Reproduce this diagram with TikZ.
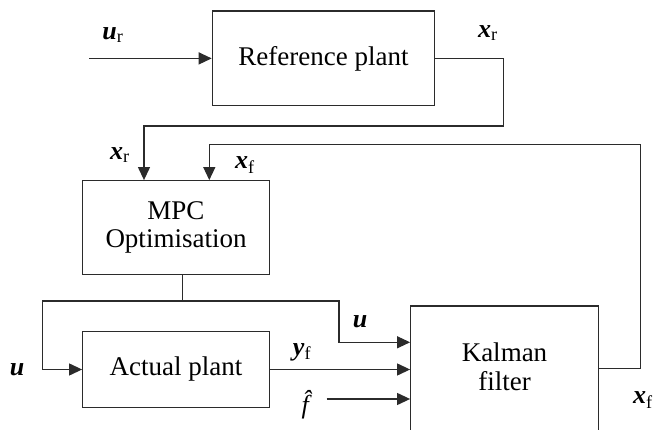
\documentclass[tikz,border=0pt]{standalone}
\usepackage{fontspec}
\setmainfont{Liberation Serif}
\usepackage{xcolor}
\usepackage{tikz}
\usetikzlibrary{positioning, arrows.meta}
\definecolor{blockline}{HTML}{2B2B2B}

\begin{document}
\begin{tikzpicture}[x=1pt, y=-1pt,
    block/.style={draw=blockline, line width=1.2pt, inner sep=0pt, align=center,
                  font=\fontsize{27}{28.5}\selectfont},
    sig/.style={draw=blockline, line width=1.2pt, -{Triangle[length=13pt, width=12pt]}},
    lbl/.style={inner sep=0pt, font=\fontsize{26}{28}\selectfont}]
    \useasboundingbox (0,0) rectangle (657,430);
    \clip (0,0) rectangle (657,430);

    \node[block, minimum width=222.4pt, minimum height=94.7pt] (refplant) at (323.5,58.4) {Reference plant};
    \node[block, minimum width=186.6pt, minimum height=93.6pt] (mpc) at (176,227.5) {MPC\\Optimisation};
    \node[block, minimum width=186.6pt, minimum height=75.6pt] (actual) at (176,369.5) {Actual plant};
    \node[block, minimum width=187.6pt, minimum height=134pt] (kalbox) at (504.5,373) {};
    \node[block, draw=none] (kalman) at ([yshift=6pt]kalbox.center) {Kalman\\filter};

    \coordinate (urin) at (89,58.4);
    \coordinate (xrturn) at (503.3,126);
    \coordinate (xfturn) at (640.5,144.5);
    \coordinate (uleft) at (42.7,301);
    \coordinate (uright) at (339,301);
    \coordinate (fin) at (326.7,399);

    \draw[sig] (urin) -- (refplant.west);
    \draw[sig] (refplant.east) -| (xrturn) -| ([xshift=-32pt]mpc.north);
    \draw[sig] ([yshift=4.7pt]kalbox.east) -| (xfturn) -| ([xshift=33.3pt]mpc.north);
    \draw[sig] ([xshift=6.3pt]mpc.south) |- (uleft) |- (actual.west);
    \draw[sig] (uleft) -- (uright) |- ([yshift=30.7pt]kalbox.west);
    \draw[sig] (actual.east) -- (actual.east -| kalbox.west);
    \draw[sig] (fin) -- (fin -| kalbox.west);

    \node[lbl] (urlbl) at (113,35) {\textbf{\textit{u}}\textsubscript{r}};
    \node[lbl] (xrlbl) at (488,33) {\textbf{\textit{x}}\textsubscript{r}};
    \node[lbl] (xrmpclbl) at (120,155) {\textbf{\textit{x}}\textsubscript{r}};
    \node[lbl] (xfmpclbl) at (245,165) {\textbf{\textit{x}}\textsubscript{f}};
    \node[lbl] (ulbl) at (17,370) {\textbf{\textit{u}}};
    \node[lbl] (ukallbl) at (360,322) {\textbf{\textit{u}}};
    \node[lbl] (yflbl) at (302,352) {\textbf{\textit{y}}\textsubscript{f}};
    \node[lbl] (fhatlbl) at (310,405) {\textit{\^{f}}};
    \node[lbl] (xflbl) at (643,400) {\textbf{\textit{x}}\textsubscript{f}};
\end{tikzpicture}
\end{document}
